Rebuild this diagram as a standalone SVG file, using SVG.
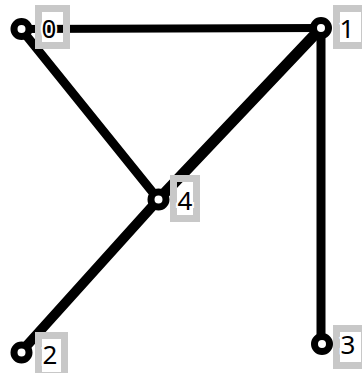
<svg xmlns="http://www.w3.org/2000/svg" width="362" height="373" viewBox="0 0 362 373">
<style>
.e{stroke:#000;stroke-linecap:round;fill:none}
.n{fill:#fff;stroke:#000;stroke-width:7}
.b{fill:none;stroke:#c8c8c8;stroke-width:7}
.t{font-family:"Noto Sans","Open Sans",sans-serif;font-size:26px;fill:#000;stroke:#fff;stroke-width:4;paint-order:stroke;text-anchor:middle}
</style>
<rect width="362" height="373" fill="#fff"/>
<g id="edges">
<line class="e" x1="21" y1="29" x2="321" y2="28" stroke-width="8"/>
<line class="e" x1="21" y1="29" x2="158.5" y2="199.5" stroke-width="9"/>
<line class="e" x1="321" y1="28" x2="158.5" y2="199.5" stroke-width="11"/>
<line class="e" x1="158.5" y1="199.5" x2="21" y2="352" stroke-width="10"/>
<line class="e" x1="321" y1="28" x2="321" y2="344" stroke-width="9"/>
</g>
<g id="node0"><circle class="n" cx="21.5" cy="29" r="7.5"/><rect class="b" x="38.5" y="8.5" width="28" height="37"/><text class="t" x="49" y="38">0</text></g>
<g id="node1"><circle class="n" cx="321" cy="28" r="7.5"/><rect class="b" x="336.5" y="8.5" width="28" height="37"/><text class="t" x="347" y="38">1</text></g>
<g id="node4"><circle class="n" cx="158.5" cy="199.5" r="7.5"/><rect class="b" x="173.5" y="178.5" width="23" height="40"/><text class="t" x="185" y="210">4</text></g>
<g id="node2"><circle class="n" cx="21.5" cy="352.5" r="7.5"/><rect class="b" x="38.5" y="335.5" width="26" height="40"/><text class="t" x="50" y="364">2</text></g>
<g id="node3"><circle class="n" cx="322" cy="344" r="7.5"/><rect class="b" x="336.5" y="328.5" width="28" height="37"/><text class="t" x="348" y="354">3</text></g>
</svg>
